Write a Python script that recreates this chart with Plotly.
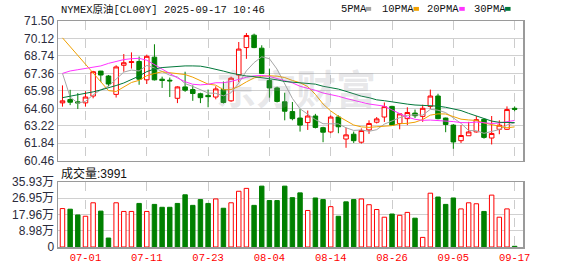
import plotly.graph_objects as go
import pandas as pd

# ---------------- data ----------------
dates = pd.bdate_range("2025-06-26", "2025-09-17").strftime("%Y-%m-%d").tolist()

opens = [65.03, 65.29, 65.11, 65.03, 65.57, 67.54, 67.15, 65.70, 68.00, 68.22,
         68.30, 66.85, 68.64, 66.90, 66.82, 65.39, 66.29, 66.08, 65.75, 65.62,
         65.49, 66.08, 65.19, 67.23, 69.40, 70.38, 69.35, 66.80, 66.21, 65.11,
         64.34, 63.83, 63.47, 63.99, 63.07, 62.73, 63.91, 62.17, 62.55, 61.92,
         62.89, 63.50, 63.91, 64.75, 63.40, 63.78, 64.22, 63.96, 64.75, 65.57,
         63.83, 63.27, 62.04, 62.43, 62.73, 63.73, 62.25, 62.94, 62.94, 64.60]
highs = [66.41, 66.06, 65.80, 65.95, 67.56, 67.56, 67.23, 68.00, 68.89, 69.02,
         68.69, 68.84, 69.66, 67.10, 67.03, 66.34, 67.49, 66.41, 65.83, 66.08,
         66.34, 66.72, 67.10, 69.84, 70.55, 70.50, 69.58, 67.74, 66.31, 65.83,
         65.10, 64.55, 64.42, 64.16, 63.14, 64.04, 64.04, 63.07, 62.76, 63.01,
         63.65, 63.91, 65.06, 64.80, 64.22, 64.68, 64.50, 64.88, 66.08, 65.75,
         63.86, 63.35, 63.27, 63.53, 63.99, 63.78, 63.99, 63.65, 64.75, 64.75]
lows = [64.73, 64.85, 64.55, 64.73, 65.39, 66.67, 66.34, 65.45, 67.49, 67.74,
        66.46, 66.52, 66.80, 66.21, 65.49, 65.01, 65.90, 65.19, 65.01, 64.68,
        65.31, 64.98, 65.11, 66.67, 68.51, 69.35, 67.31, 65.44, 65.06, 63.65,
        63.65, 62.76, 62.89, 63.01, 61.92, 62.63, 62.63, 61.48, 61.86, 61.81,
        62.58, 63.40, 63.52, 63.22, 62.94, 63.27, 63.83, 63.53, 64.55, 63.73,
        62.71, 61.40, 61.86, 62.43, 62.68, 62.20, 61.74, 62.55, 62.89, 64.37]
closes = [65.19, 65.08, 65.03, 65.49, 67.49, 67.23, 66.52, 67.87, 68.20, 68.28,
          66.90, 68.71, 66.85, 66.80, 66.77, 66.29, 66.03, 65.77, 65.44, 65.52,
          66.13, 65.06, 66.98, 69.28, 70.35, 69.40, 67.36, 66.21, 65.14, 64.37,
          63.78, 63.27, 63.99, 63.09, 62.71, 63.91, 63.14, 62.50, 62.04, 62.84,
          63.40, 63.76, 64.73, 63.27, 64.16, 64.27, 64.01, 64.60, 65.57, 63.78,
          63.32, 61.94, 62.45, 62.73, 63.70, 62.30, 62.61, 63.27, 64.50, 64.52]

ma5 = [67.36, 65.50, 65.00, 65.15, 65.66, 66.06, 66.35, 66.92, 67.46, 67.62,
       67.55, 67.99, 67.79, 67.51, 67.21, 67.08, 66.55, 66.33, 66.06, 65.81,
       65.78, 65.58, 65.83, 66.59, 67.56, 68.21, 68.67, 68.52, 67.69, 66.50,
       65.38, 64.56, 64.12, 63.71, 63.38, 63.39, 63.37, 63.06, 62.85, 62.89,
       62.78, 62.91, 63.35, 63.60, 63.86, 64.04, 64.09, 64.06, 64.52, 64.45,
       64.26, 63.84, 63.41, 62.84, 62.83, 62.62, 62.76, 62.92, 63.28, 63.44]
ma10 = [70.17, 69.47, 68.77, 68.07, 67.37, 66.67, 66.00, 65.93, 66.30, 66.64,
        66.81, 67.17, 67.35, 67.49, 67.41, 67.32, 67.27, 67.06, 66.78, 66.51,
        66.43, 66.07, 66.08, 66.33, 66.69, 67.00, 67.13, 67.17, 67.14, 67.03,
        66.80, 66.62, 66.32, 65.70, 64.94, 64.39, 63.97, 63.59, 63.28, 63.13,
        63.09, 63.14, 63.21, 63.23, 63.38, 63.41, 63.50, 63.71, 64.06, 64.16,
        64.15, 63.96, 63.74, 63.68, 63.64, 63.44, 63.30, 63.17, 63.06, 63.13]
ma20 = [67.36, 67.55, 67.65, 67.75, 67.85, 67.95, 68.15, 68.30, 68.45, 68.52,
        68.55, 68.40, 68.05, 67.70, 67.30, 67.00, 66.70, 66.50, 66.45, 66.50,
        66.62, 66.62, 66.72, 66.91, 67.05, 67.16, 67.20, 67.12, 66.96, 66.77,
        66.61, 66.34, 66.20, 66.02, 65.81, 65.69, 65.55, 65.38, 65.21, 65.08,
        64.94, 64.88, 64.77, 64.47, 64.16, 63.90, 63.73, 63.65, 63.67, 63.64,
        63.62, 63.55, 63.47, 63.46, 63.51, 63.43, 63.40, 63.44, 63.56, 63.64]
ma30 = [65.44, 65.55, 65.65, 65.78, 65.90, 66.05, 66.20, 66.40, 66.60, 66.85,
        67.15, 67.50, 67.70, 67.82, 67.88, 67.92, 67.95, 67.95, 67.93, 67.82,
        67.65, 67.54, 67.38, 67.25, 67.15, 67.10, 67.02, 66.95, 66.85, 66.72,
        66.68, 66.62, 66.59, 66.51, 66.34, 66.23, 66.12, 65.94, 65.74, 65.56,
        65.44, 65.27, 65.20, 65.09, 65.00, 64.93, 64.86, 64.83, 64.83, 64.77,
        64.68, 64.57, 64.42, 64.20, 63.98, 63.75, 63.59, 63.49, 63.47, 63.47]

# volume in 万 (10k contracts)
volumes = [21.25, 20.90, 17.71, 17.00, 24.44, 19.84, 4.96, 24.44, 19.66, 19.66,
           24.09, 19.66, 23.55, 21.96, 21.96, 24.09, 28.87, 23.02, 26.21, 24.09,
           26.57, 21.43, 24.44, 30.82, 32.41, 23.02, 33.65, 25.68, 25.68, 33.65,
           27.27, 29.93, 20.19, 27.10, 26.21, 22.31, 17.00, 24.97, 26.21, 26.57,
           23.38, 20.72, 16.47, 18.24, 17.53, 19.13, 15.94, 5.31, 29.75, 27.63,
           23.55, 27.10, 21.07, 24.44, 23.91, 19.66, 28.69, 16.47, 21.07, 0.3991]
vol_up = [1, 0, 0, 1, 1, 0, 0, 1, 1, 1, 0, 1, 0, 0, 0, 0, 0, 0, 0, 0,
          1, 0, 1, 1, 1, 0, 0, 0, 0, 0, 0, 0, 1, 0, 0, 1, 0, 0, 0, 1,
          1, 1, 1, 0, 1, 1, 0, 1, 1, 0, 0, 0, 1, 1, 1, 0, 1, 1, 1, 0]

price_ticks = [60.46, 61.84, 63.22, 64.60, 65.98, 67.36, 68.74, 70.12, 71.50]
vol_ticks = [0, 8.98, 17.96, 26.95, 35.93]
vol_tick_labels = ["0", "8.98万", "17.96万", "26.95万", "35.93万"]
x_tick_labels = ["07-01", "07-11", "07-23", "08-04", "08-14", "08-26", "09-05", "09-17"]

title_text = "NYMEX原油[CL00Y] 2025-09-17 10:46"
vol_title = "成交量:3991"
ma_names = ["5PMA", "10PMA", "20PMA", "30PMA"]
ma_colors = ["#a6a6a6", "#f0a000", "#ff33ff", "#00773a"]

# ---------------- styling ----------------
RED = "#ff0000"
GREEN = "#008000"
W, H = 578, 276
L, R, T, B = 56, 523, 21, 254
MAIN_BOTTOM = 165
VOL_TOP = 187

x = list(range(len(dates)))
tick_pos = [dates.index("2025-" + lbl) for lbl in x_tick_labels]
xrange = [-0.585, 60.09]


def px(xp):
    return (xp - L) / (R - L)


def py(yp):
    return (B - yp) / (B - T)


fig = go.Figure()

fig.add_trace(go.Candlestick(
    x=x, open=opens, high=highs, low=lows, close=closes,
    increasing=dict(line=dict(color=RED, width=1), fillcolor="#ffffff"),
    decreasing=dict(line=dict(color=GREEN, width=1), fillcolor=GREEN),
    whiskerwidth=0, xaxis="x", yaxis="y", showlegend=False, hoverinfo="skip",
))

for vals, name, col in zip([ma5, ma10, ma20, ma30], ma_names, ma_colors):
    fig.add_trace(go.Scatter(x=x, y=vals, mode="lines", name=name,
                             line=dict(color=col, width=1),
                             xaxis="x", yaxis="y", showlegend=False, hoverinfo="skip"))

fig.add_trace(go.Bar(
    x=x, y=volumes, width=0.58,
    marker=dict(color=["#ffffff" if u else GREEN for u in vol_up],
                line=dict(color=[RED if u else GREEN for u in vol_up], width=1)),
    xaxis="x2", yaxis="y2", showlegend=False, hoverinfo="skip",
))

axis_line = dict(showline=True, mirror=True, linecolor="#9a9a9a", linewidth=1.5,
                 zeroline=False, ticks="")
xgrid = dict(showgrid=True, gridcolor="#cccccc", griddash="dash", gridwidth=1)

fig.update_layout(
    width=W, height=H,
    margin=dict(l=L, r=W - R, t=T, b=H - B, pad=0),
    paper_bgcolor="#ffffff", plot_bgcolor="#ffffff",
    boxgap=0.3, boxgroupgap=0.15,
    font=dict(family="Liberation Sans, Arial, Noto Sans CJK SC", size=12, color="#333333"),
    xaxis=dict(domain=[0, 1], range=xrange, anchor="y", tickvals=tick_pos,
               showticklabels=False, rangeslider=dict(visible=False), **xgrid, **axis_line),
    yaxis=dict(domain=[py(MAIN_BOTTOM), 1], range=[60.46, 71.50], tickvals=price_ticks,
               ticktext=["%.2f" % v for v in price_ticks], showgrid=True,
               gridcolor="#d0d0d0", gridwidth=1,
               tickfont=dict(size=12, color="#2b2b3b"), **axis_line),
    xaxis2=dict(domain=[0, 1], range=xrange, anchor="y2", tickvals=tick_pos,
                ticktext=x_tick_labels,
                tickfont=dict(family="Liberation Mono, monospace", size=10.5, color=RED),
                **xgrid, **axis_line),
    yaxis2=dict(domain=[0, py(VOL_TOP)], range=[0, 35.93], tickvals=vol_ticks,
                ticktext=vol_tick_labels, showgrid=True, gridcolor="#d0d0d0", gridwidth=1,
                tickfont=dict(family="Liberation Sans, Noto Sans CJK SC", size=12,
                              color="#2b2b3b"), **axis_line),
    showlegend=False,
    hovermode=False,
)

annotations = [
    dict(text=title_text, x=px(57), y=py(9), xref="paper", yref="paper",
         xanchor="left", yanchor="middle", showarrow=False,
         font=dict(family="Liberation Mono, Noto Sans CJK SC", size=10.5, color="#111111")),
    dict(text=vol_title, x=px(57), y=py(178), xref="paper", yref="paper",
         xanchor="left", yanchor="middle", showarrow=False,
         font=dict(family="Liberation Sans, Noto Sans CJK SC", size=12, color="#111111")),
    dict(text="<b>东方财富</b>", x=px(295), y=py(89), xref="paper", yref="paper",
         xanchor="center", yanchor="middle", showarrow=False,
         font=dict(family="Noto Sans CJK SC", size=40, color="rgba(150,150,160,0.22)")),
]
legend_left = [338, 379, 425, 472]
square_left = [365, 413, 459, 505]
shapes = []
for name, col, lx, sx in zip(ma_names, ma_colors, legend_left, square_left):
    annotations.append(dict(text=name, x=px(lx), y=py(9), xref="paper", yref="paper",
                            xanchor="left", yanchor="middle", showarrow=False,
                            font=dict(family="Liberation Mono, monospace", size=10.5,
                                      color="#111111")))
    shapes.append(dict(type="rect", xref="paper", yref="paper",
                       x0=px(sx), x1=px(sx + 5.5), y0=py(10.5), y1=py(6.5),
                       fillcolor=col, line=dict(width=0)))
fig.update_layout(annotations=annotations, shapes=shapes)

fig.write_html("out.html", config={"displayModeBar": False, "staticPlot": True})
